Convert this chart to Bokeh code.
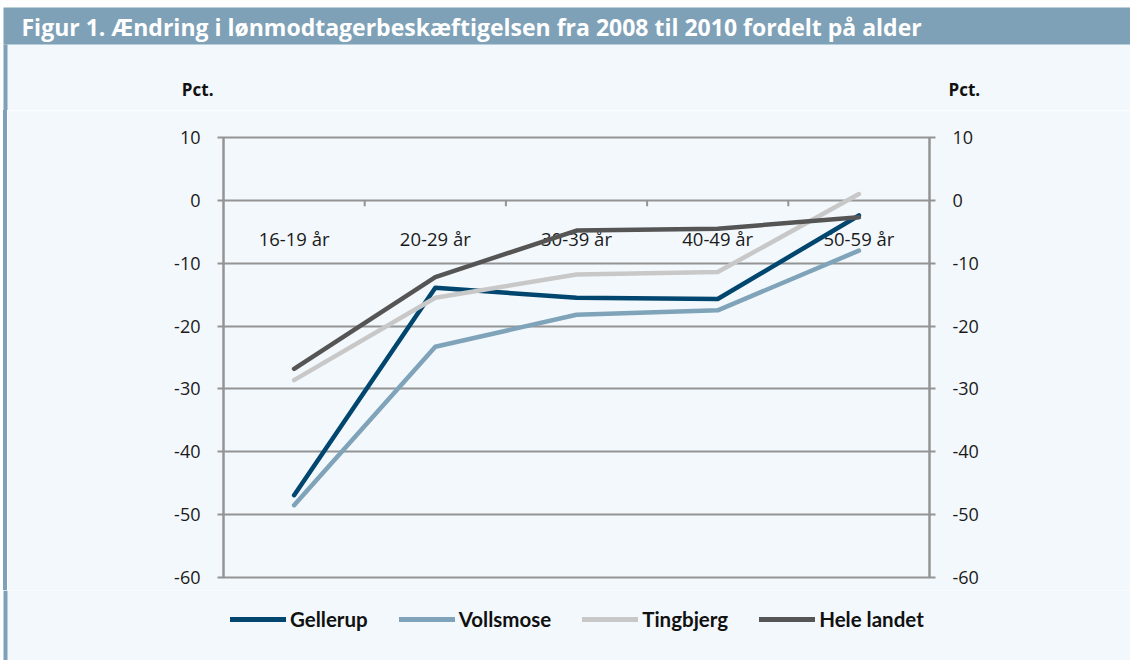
from bokeh.plotting import figure
from bokeh.models import (FactorRange, Range1d, LinearAxis, FixedTicker, Legend, LegendItem,
                          ColumnDataSource, Spacer)
from bokeh.layouts import column, row
from bokeh.transform import dodge
from bokeh.core.properties import value
from bokeh.embed import file_html
from bokeh.resources import INLINE

# ---------------- data ----------------
categories = ["16-19 år", "20-29 år", "30-39 år", "40-49 år", "50-59 år"]
gellerup = [-46.9, -13.9, -15.5, -15.7, -2.4]
vollsmose = [-48.5, -23.3, -18.2, -17.5, -8.0]
tingbjerg = [-28.6, -15.5, -11.8, -11.4, 1.0]
hele_landet = [-26.8, -12.2, -4.8, -4.5, -2.7]
series_names = ["Gellerup", "Vollsmose", "Tingbjerg", "Hele landet"]
y_ticks = [-60, -50, -40, -30, -20, -10, 0, 10]
y_tick_labels = ["-60", "-50", "-40", "-30", "-20", "-10", "0", "10"]
title_text = "Figur 1. Ændring i lønmodtagerbeskæftigelsen fra 2008 til 2010 fordelt på alder"
unit_label = "Pct."

# ---------------- style ----------------
TOTAL_W = 1130
HDR_H = 110
MAIN_H = 480
FTR_H = 70
BG = "#f3f8fc"
BAR = "#7fa1b7"
GRID = "#949494"
colors = ["#00466e", "#7fa3b9", "#c8c8c8", "#555555"]
FONT = "Open Sans"


def panel_fig(height):
    f = figure(width=TOTAL_W, height=height, x_range=Range1d(0, TOTAL_W), y_range=Range1d(height, 0),
               output_backend="svg", toolbar_location=None,
               x_axis_location=None, y_axis_location=None,
               min_border=0, min_border_left=0, min_border_right=0,
               min_border_top=0, min_border_bottom=0)
    f.outline_line_color = None
    f.xgrid.visible = False
    f.ygrid.visible = False
    f.background_fill_color = BG
    f.border_fill_color = BG
    f.quad(left=[0], right=[3], top=[0], bottom=[height], fill_color="white", line_color=None)
    return f


# ---------- header: title bar + unit labels ----------
hdr = panel_fig(HDR_H)
hdr.quad(left=[0], right=[TOTAL_W], top=[0], bottom=[7], fill_color="white", line_color=None)
hdr.quad(left=[3], right=[TOTAL_W], top=[7], bottom=[44], fill_color=BAR, line_color=None)
hdr.quad(left=[3], right=[7], top=[44], bottom=[HDR_H], fill_color=BAR, line_color=None)
hdr.text(x=[21], y=[26], text=[title_text], text_font=value(FONT), text_font_style="bold",
         text_font_size="23px", text_color="white", text_baseline="middle", text_align="left")
hdr.text(x=[213, 948], y=[89, 89], text=[unit_label, unit_label], text_font=value(FONT),
         text_font_style="bold", text_font_size="17px", text_color="#111111",
         text_baseline="middle", text_align=["right", "left"])

# ---------- left strip (plain spacer, not a plot) ----------
strip = Spacer(width=7, height=MAIN_H,
               styles={"background": f"linear-gradient(to right, white 3px, {BAR} 3px)"})

# ---------- main chart ----------
MAIN_W = TOTAL_W - 7
p = figure(width=MAIN_W, height=MAIN_H, x_range=FactorRange(*categories), y_range=Range1d(-60, 10),
           output_backend="svg", toolbar_location=None, x_axis_location=None,
           min_border_left=216, min_border_right=MAIN_W - 922, min_border_top=27,
           min_border_bottom=MAIN_H - 467)
p.background_fill_color = BG
p.border_fill_color = BG
p.outline_line_color = GRID
p.outline_line_width = 2
p.xgrid.visible = False
p.ygrid.ticker = FixedTicker(ticks=y_ticks)
p.ygrid.grid_line_color = GRID
p.ygrid.grid_line_width = 2


def style_axis(ax):
    ax.ticker = FixedTicker(ticks=y_ticks)
    ax.major_label_overrides = dict(zip(y_ticks, y_tick_labels))
    ax.axis_line_color = GRID
    ax.axis_line_width = 2
    ax.major_tick_line_color = GRID
    ax.major_tick_line_width = 2
    ax.major_tick_in = 0
    ax.major_tick_out = 6
    ax.minor_tick_line_color = None
    ax.major_label_text_font = FONT
    ax.major_label_text_font_size = "18px"
    ax.major_label_text_color = "#1a1a1a"
    ax.major_label_standoff = 17


style_axis(p.yaxis[0])
right_axis = LinearAxis()
style_axis(right_axis)
p.add_layout(right_axis, "right")

# category labels sitting under the zero line
p.text(x=categories, y=[0] * len(categories), text=categories, y_offset=38,
       text_align="center", text_baseline="middle", text_font=value(FONT),
       text_font_size="18.5px", text_color="#1a1a1a")
# category boundary ticks on the zero line
tick_src = ColumnDataSource(dict(cat=categories[:-1], y0=[0] * 4, y1=[-0.95] * 4))
p.segment(x0=dodge("cat", 0.5, range=p.x_range), x1=dodge("cat", 0.5, range=p.x_range),
          y0="y0", y1="y1", source=tick_src, line_color=GRID, line_width=2)

for vals, col in zip([gellerup, vollsmose, tingbjerg, hele_landet], colors):
    p.line(x=categories, y=vals, line_color=col, line_width=4.5,
           line_cap="round", line_join="round")

# ---------- footer with legend ----------
ftr = panel_fig(FTR_H)
ftr.quad(left=[3], right=[7], top=[0], bottom=[FTR_H], fill_color=BAR, line_color=None)
items = []
for name, col in zip(series_names, colors):
    # off-canvas placeholder renderer: only its style is used by the legend swatch
    r = ftr.line(x=[0, 1], y=[-100, -100], line_color=col, line_width=5, line_cap="round")
    items.append(LegendItem(label=name, renderers=[r]))
legend = Legend(items=items, orientation="horizontal", location=(230, 29),
                background_fill_alpha=0, border_line_color=None,
                glyph_width=56, glyph_height=20, label_height=20, label_standoff=4,
                spacing=31, padding=0, margin=0,
                label_text_font="Lato", label_text_font_style="bold",
                label_text_font_size="20.5px", label_text_color="#111111")
ftr.add_layout(legend, "center")

layout = column(hdr, row(strip, p, spacing=0), ftr, spacing=0)
open("out.html", "w").write(file_html(layout, INLINE))
